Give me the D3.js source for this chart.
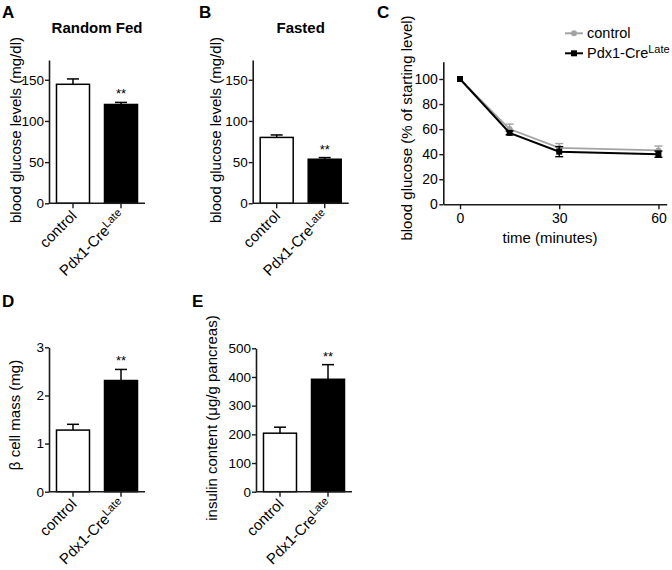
<!DOCTYPE html>
<html><head><meta charset="utf-8">
<script src="https://cdn.jsdelivr.net/npm/d3@7"></script>
<style>
body{margin:0;background:#fff}
svg{display:block}
text{font-family:"Liberation Sans",Arial,sans-serif;fill:#000}
</style>
</head><body>
<svg id="chart" width="672" height="570"></svg>
<script>
// ---- data ----
const categories = ["control", "Pdx1-Cre^Late"];
const randomFedValues = [144.5, 120];
const randomFedErrors = [6.5, 2.5];
const fastedValues = [80, 53.5];
const fastedErrors = [3, 2];
const betaCellMassValues = [1.28, 2.31];
const betaCellMassErrors = [0.12, 0.23];
const insulinValues = [204, 392];
const insulinErrors = [21, 51];
const glucoseTicks = [0, 50, 100, 150];
const betaTicks = [0, 1, 2, 3];
const insulinTicks = [0, 100, 200, 300, 400, 500];
const significance = ["", "**"];

const seriesNames = ["control", "Pdx1-Cre^Late"];
const timePoints = [0, 15, 30, 60];
const controlTolerance = [100, 60, 45, 43];
const controlToleranceErr = [0, 4, 3.5, 3.5];
const pdxTolerance = [100, 57, 42, 40];
const pdxToleranceErr = [0, 1.5, 4, 2.5];
const timeTicks = [0, 30, 60];
const percentTicks = [0, 20, 40, 60, 80, 100];

const svg = d3.select("#chart");
const AXIS = "#1a1a1a";

function supText(sel, label, mainSize, supSize) {
  const parts = label.split("^");
  sel.append("tspan").text(parts[0]).style("font-size", mainSize + "px");
  if (parts[1]) sel.append("tspan").text(parts[1]).style("font-size", supSize + "px").attr("dy", -5);
}

function styleAxis(g) {
  g.selectAll("path.domain").attr("stroke", AXIS).attr("stroke-width", 1.6);
  g.selectAll(".tick line").attr("stroke", AXIS).attr("stroke-width", 1.4);
}

function barPanel(cfg) {
  const g = svg.append("g");
  const x = d3.scaleBand().domain(categories).range([cfg.x0, cfg.x0 + 96])
    .paddingInner(0.3125).paddingOuter(0.156);
  const y = d3.scaleLinear().domain(cfg.domain).range([cfg.yBottom, cfg.yTop]);

  g.selectAll("rect.bar").data(categories).join("rect")
    .attr("x", d => x(d)).attr("width", x.bandwidth())
    .attr("y", (d, i) => y(cfg.values[i]))
    .attr("height", (d, i) => y(0) - y(cfg.values[i]))
    .attr("fill", (d, i) => i === 0 ? "#fff" : "#000")
    .attr("stroke", "#000").attr("stroke-width", 1.5);

  categories.forEach((c, i) => {
    const cx = x(c) + x.bandwidth() / 2;
    const top = y(cfg.values[i] + cfg.errors[i]);
    g.append("line").attr("x1", cx).attr("x2", cx)
      .attr("y1", y(cfg.values[i])).attr("y2", top)
      .attr("stroke", "#000").attr("stroke-width", 1.5);
    g.append("line").attr("x1", cx - 6).attr("x2", cx + 6)
      .attr("y1", top).attr("y2", top)
      .attr("stroke", "#000").attr("stroke-width", 1.5);
    if (significance[i]) {
      g.append("text").attr("x", cx).attr("y", top - 4)
        .attr("text-anchor", "middle").style("font-size", "13px")
        .text(significance[i]);
    }
  });

  const ya = g.append("g").attr("transform", `translate(${cfg.x0},0)`)
    .call(d3.axisLeft(y).tickValues(cfg.ticks).tickFormat(d3.format("d"))
      .tickSize(4).tickSizeOuter(0).tickPadding(1));
  ya.selectAll(".tick text").style("font-size", "13.5px").attr("fill", "#000");
  styleAxis(ya);

  const xa = g.append("g").attr("transform", `translate(0,${cfg.yBottom})`)
    .call(d3.axisBottom(x).tickSize(5).tickSizeOuter(0));
  xa.select("path.domain").attr("d", `M${cfg.x0},0H${cfg.x0 + 96}`);
  xa.selectAll(".tick text").remove();
  styleAxis(xa);

  categories.forEach(c => {
    const cx = x(c) + x.bandwidth() / 2;
    const t = g.append("text")
      .attr("transform", `translate(${cx + 4.5},${cfg.yBottom + 13.5}) rotate(-45)`)
      .attr("text-anchor", "end");
    supText(t, c, 15, 11);
  });

  g.append("text")
    .attr("transform", `translate(${cfg.labelX},${cfg.labelY}) rotate(-90)`)
    .attr("text-anchor", "middle").attr("dy", "0.35em")
    .style("font-size", "15px").text(cfg.ylabel);

  if (cfg.title) {
    g.append("text").attr("x", cfg.x0 + 48).attr("y", 33)
      .attr("text-anchor", "middle").style("font-size", "15px")
      .style("font-weight", "bold").text(cfg.title);
  }
  g.append("text").attr("x", cfg.letterX).attr("y", cfg.letterY)
    .style("font-size", "17px").style("font-weight", "bold").text(cfg.letter);
}

barPanel({x0: 49, yTop: 60, yBottom: 203.3, domain: [0, 174], ticks: glucoseTicks,
  values: randomFedValues, errors: randomFedErrors, title: "Random Fed", letter: "A",
  letterX: 2, letterY: 17.5, ylabel: "blood glucose levels (mg/dl)", labelX: 15.5, labelY: 130});
barPanel({x0: 252.7, yTop: 60, yBottom: 203.3, domain: [0, 174], ticks: glucoseTicks,
  values: fastedValues, errors: fastedErrors, title: "Fasted", letter: "B",
  letterX: 199, letterY: 17.5, ylabel: "blood glucose levels (mg/dl)", labelX: 216, labelY: 130});
barPanel({x0: 49, yTop: 347.3, yBottom: 491.7, domain: [0, 3], ticks: betaTicks,
  values: betaCellMassValues, errors: betaCellMassErrors, title: null, letter: "D",
  letterX: 2, letterY: 306.5, ylabel: "β cell mass (mg)", labelX: 15, labelY: 415});
barPanel({x0: 256, yTop: 348.3, yBottom: 491.7, domain: [0, 500], ticks: insulinTicks,
  values: insulinValues, errors: insulinErrors, title: null, letter: "E",
  letterX: 192, letterY: 306.5, ylabel: "insulin content (μg/g pancreas)", labelX: 211.5, labelY: 418});

// ---- panel C ----
(function () {
  const g = svg.append("g");
  const x = d3.scaleLinear().domain([-5.05, 62.5]).range([443.3, 666.7]);
  const y = d3.scaleLinear().domain([0, 113.8]).range([204.3, 61.7]);
  const series = [
    {name: seriesNames[0], vals: controlTolerance, errs: controlToleranceErr, color: "#a3a3a3", dir: 1},
    {name: seriesNames[1], vals: pdxTolerance, errs: pdxToleranceErr, color: "#000", dir: 0}
  ];
  const line = d3.line().x(d => x(d[0])).y(d => y(d[1]));

  series.forEach(s => {
    const pts = timePoints.map((t, i) => [t, s.vals[i]]);
    timePoints.forEach((t, i) => {
      if (!s.errs[i]) return;
      const cx = x(t);
      const ends = s.dir === 1 ? [s.vals[i] + s.errs[i]] : [s.vals[i] + s.errs[i], s.vals[i] - s.errs[i]];
      ends.forEach(e => {
        g.append("line").attr("x1", cx).attr("x2", cx).attr("y1", y(s.vals[i])).attr("y2", y(e))
          .attr("stroke", s.color).attr("stroke-width", 1.4);
        g.append("line").attr("x1", cx - 4).attr("x2", cx + 4).attr("y1", y(e)).attr("y2", y(e))
          .attr("stroke", s.color).attr("stroke-width", 1.4);
      });
    });
    g.append("path").datum(pts).attr("d", line).attr("fill", "none")
      .attr("stroke", s.color).attr("stroke-width", s.dir === 1 ? 1.7 : 2);
    if (s.dir === 1) {
      g.selectAll(null).data(pts).join("circle")
        .attr("cx", d => x(d[0])).attr("cy", d => y(d[1])).attr("r", 3)
        .attr("fill", s.color);
    } else {
      g.selectAll(null).data(pts).join("rect")
        .attr("x", d => x(d[0]) - 3).attr("y", d => y(d[1]) - 3)
        .attr("width", 6).attr("height", 6).attr("fill", s.color);
    }
  });

  const ya = g.append("g").attr("transform", "translate(443.3,0)")
    .call(d3.axisLeft(y).tickValues(percentTicks).tickSize(4).tickSizeOuter(0).tickPadding(1.5));
  ya.selectAll(".tick text").style("font-size", "14px").attr("fill", "#000");
  styleAxis(ya);
  const xa = g.append("g").attr("transform", "translate(0,204.3)")
    .call(d3.axisBottom(x).tickValues(timeTicks).tickSize(5).tickSizeOuter(0).tickPadding(4));
  xa.selectAll(".tick text").style("font-size", "14px").attr("fill", "#000");
  styleAxis(xa);

  g.append("text").attr("x", 550).attr("y", 243).attr("text-anchor", "middle")
    .style("font-size", "15px").text("time (minutes)");
  g.append("text").attr("transform", "translate(407,128) rotate(-90)")
    .attr("text-anchor", "middle").attr("dy", "0.35em")
    .style("font-size", "15px").text("blood glucose (% of starting level)");
  g.append("text").attr("x", 377).attr("y", 17.5)
    .style("font-size", "17px").style("font-weight", "bold").text("C");

  const ly = [33.3, 53.3];
  series.forEach((s, i) => {
    g.append("line").attr("x1", 565).attr("x2", 583).attr("y1", ly[i]).attr("y2", ly[i])
      .attr("stroke", s.color).attr("stroke-width", 2);
    if (s.dir === 1) g.append("circle").attr("cx", 574).attr("cy", ly[i]).attr("r", 3).attr("fill", s.color);
    else g.append("rect").attr("x", 571).attr("y", ly[i] - 3).attr("width", 6).attr("height", 6).attr("fill", s.color);
    const t = g.append("text").attr("x", 587).attr("y", ly[i] + 4.5);
    supText(t, s.name, 14.5, 11);
  });
})();
</script>
</body></html>
